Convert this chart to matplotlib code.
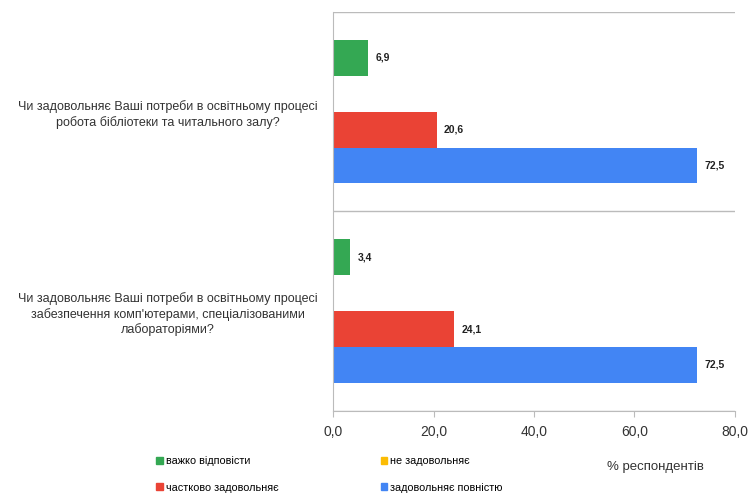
import numpy as np
import matplotlib.pyplot as plt
from matplotlib.patches import Patch

plt.rcParams['font.family'] = ['Liberation Sans', 'DejaVu Sans']

# data
questions = [
    "Чи задовольняє Ваші потреби в освітньому процесі\nробота бібліотеки та читального залу?",
    "Чи задовольняє Ваші потреби в освітньому процесі\nзабезпечення комп'ютерами, спеціалізованими\nлабораторіями?",
]
series_names = ["важко відповісти", "не задовольняє", "частково задовольняє", "задовольняє повністю"]
hard_to_say = [6.9, 3.4]
not_satisfied = [0.0, 0.0]
partly = [20.6, 24.1]
fully = [72.5, 72.5]
x_ticks = [0, 20, 40, 60, 80]

colors = ["#34a853", "#fbbc04", "#ea4335", "#4285f4"]
series = [hard_to_say, not_satisfied, partly, fully]

fig = plt.figure(figsize=(7.52, 4.95), dpi=100)
ax = fig.add_axes([0.443, 0.170, 0.534, 0.806])

bar_h = 0.18
offsets = [-0.27, -0.09, 0.09, 0.27]
centers = np.arange(len(questions)) + 0.5

for vals, off, col in zip(series, offsets, colors):
    y = centers + off
    ax.barh(y, vals, height=bar_h, color=col)
    for yy, v in zip(y, vals):
        if v > 0:
            ax.text(v + 1.5, yy, f"{v:.1f}".replace(".", ","), va="center", ha="left",
                    fontsize=7.5, fontweight="bold", color="#222222")

ax.set_ylim(len(questions), 0)
ax.set_xlim(0, 80)
ax.set_xticks(x_ticks)
ax.set_xticklabels([f"{t:.1f}".replace(".", ",") for t in x_ticks], fontsize=10, color="#333333")
ax.set_yticks(centers)
ax.set_yticklabels(questions, fontsize=9, color="#333333", ha="center", linespacing=1.3)
ax.tick_params(axis="y", length=0, pad=119)
ax.tick_params(axis="x", length=4, color="#bbbbbb", pad=6)

# category separator lines
for b in range(len(questions) + 1):
    ax.axhline(b, color="#bbbbbb", lw=1, zorder=0)

for s in ["top", "right"]:
    ax.spines[s].set_visible(False)
ax.spines["bottom"].set_color("#bbbbbb")
ax.spines["left"].set_color("#bbbbbb")

handles = [Patch(color=c) for c in colors]
order = [0, 2, 1, 3]
fig.legend([handles[i] for i in order], [series_names[i] for i in order],
           ncol=2, loc="lower left", bbox_to_anchor=(0.195, -0.015), frameon=False,
           fontsize=7.8, handlelength=0.6, handleheight=0.6, handletextpad=0.3,
           columnspacing=9.4, labelspacing=1.5)

fig.text(0.872, 0.05, "% респондентів", fontsize=9.5, color="#333333", ha="center")

fig.savefig("out.png", dpi=100)
